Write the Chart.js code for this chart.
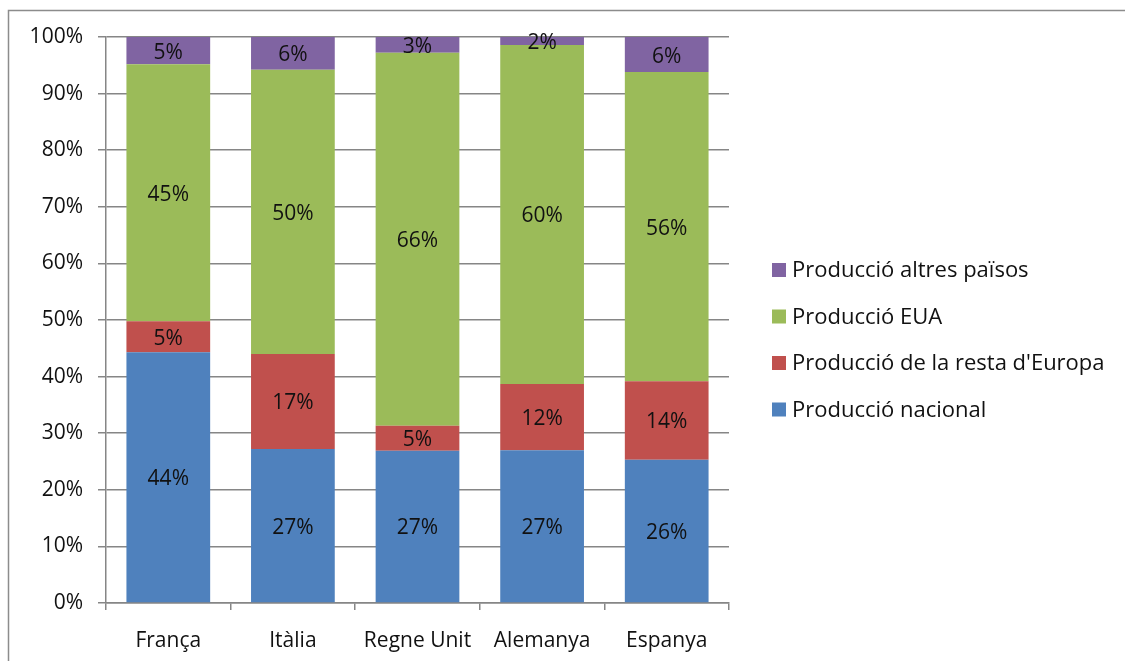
<!DOCTYPE html>
<html>
<head>
<meta charset="utf-8">
<script src="https://cdn.jsdelivr.net/npm/chart.js@4/dist/chart.umd.min.js"></script>
<style>
  html, body { margin: 0; padding: 0; background: #fff; }
  #wrap { width: 1125px; height: 661px; position: relative; }
</style>
</head>
<body>
<div id="wrap"><canvas id="chart" width="1125" height="661"></canvas></div>
<script>
// categories
const paisos = ['França', 'Itàlia', 'Regne Unit', 'Alemanya', 'Espanya'];

// bar heights (share of 100%)
const nacional = [44.3, 27.2, 26.9, 27.0, 25.3];
const restaEuropa = [5.5, 16.8, 4.4, 11.7, 13.9];
const eua = [45.4, 50.2, 65.9, 59.9, 54.6];
const altres = [4.8, 5.8, 2.8, 1.4, 6.2];

// data label text as printed on the bars
const nacionalTxt = ['44%', '27%', '27%', '27%', '26%'];
const restaEuropaTxt = ['5%', '17%', '5%', '12%', '14%'];
const euaTxt = ['45%', '50%', '66%', '60%', '56%'];
const altresTxt = ['5%', '6%', '3%', '2%', '6%'];

const yTicks = [0, 10, 20, 30, 40, 50, 60, 70, 80, 90, 100];

const FONT = 'Open Sans, Lato, sans-serif';
const FSIZE = 21;

// outer frame, data labels and legend
const extras = {
    id: 'extras',
    beforeDraw(chart) {
        const c = chart.ctx;
        c.save();
        c.strokeStyle = '#8c8c8c';
        c.lineWidth = 1.5;
        c.strokeRect(8.5, 10.5, 1200, 700);
        c.restore();
    },
    afterDatasetsDraw(chart) {
        const c = chart.ctx;
        c.save();
        c.font = FSIZE + 'px ' + FONT;
        c.fillStyle = '#111';
        c.textAlign = 'center';
        c.textBaseline = 'middle';
        chart.data.datasets.forEach((ds, i) => {
            const meta = chart.getDatasetMeta(i);
            meta.data.forEach((bar, j) => {
                const mid = (bar.y + bar.base) / 2 + 2;
                c.fillText(ds.labelsText[j], bar.x, mid);
            });
        });
        c.restore();
    },
    afterDraw(chart) {
        // legend, reversed order like the original
        const c = chart.ctx;
        const items = chart.data.datasets.slice().reverse();
        c.save();
        c.font = '22px ' + FONT;
        c.textBaseline = 'middle';
        c.textAlign = 'left';
        items.forEach((ds, k) => {
            const y = 270 + k * 46.5;
            c.fillStyle = ds.backgroundColor;
            c.fillRect(772, y - 7, 14, 14);
            c.fillStyle = '#111';
            c.fillText(ds.label, 792, y + 1);
        });
        c.restore();
    }
};

const ctx = document.getElementById('chart').getContext('2d');

new Chart(ctx, {
    type: 'bar',
    data: {
        labels: paisos,
        datasets: [
            { label: 'Producció nacional', data: nacional, labelsText: nacionalTxt, backgroundColor: '#4F81BD' },
            { label: "Producció de la resta d'Europa", data: restaEuropa, labelsText: restaEuropaTxt, backgroundColor: '#C0504D' },
            { label: 'Producció EUA', data: eua, labelsText: euaTxt, backgroundColor: '#9BBB59' },
            { label: 'Producció altres països', data: altres, labelsText: altresTxt, backgroundColor: '#8064A2' }
        ]
    },
    options: {
        responsive: false,
        animation: false,
        layout: { padding: { left: 0, right: 396, top: 37, bottom: 0 } },
        datasets: {
            bar: { categoryPercentage: 1, barPercentage: 0.672, borderWidth: 0 }
        },
        plugins: {
            legend: { display: false },
            tooltip: { enabled: false }
        },
        scales: {
            x: {
                stacked: true,
                afterFit: s => { s.height = 58; },
                grid: {
                    offset: true,
                    drawOnChartArea: false,
                    drawTicks: true,
                    tickLength: 7,
                    color: '#868686',
                    lineWidth: 1.5
                },
                border: { color: '#868686', width: 1.5 },
                ticks: {
                    color: '#111',
                    padding: 18,
                    font: { family: FONT, size: FSIZE }
                }
            },
            y: {
                stacked: true,
                min: 0,
                max: 100,
                afterFit: s => { s.width = 106; },
                afterBuildTicks: s => { s.ticks = yTicks.map(v => ({ value: v })); },
                grid: {
                    color: '#868686',
                    lineWidth: 1.5,
                    tickLength: 8
                },
                border: { color: '#868686', width: 1.5 },
                ticks: {
                    color: '#111',
                    padding: 15,
                    font: { family: FONT, size: FSIZE },
                    callback: v => v + '%'
                }
            }
        }
    },
    plugins: [extras]
});
</script>
</body>
</html>
